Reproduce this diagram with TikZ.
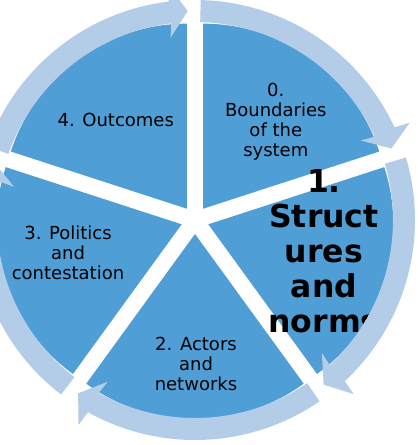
\documentclass[tikz,border=0pt]{standalone}
\usepackage{fontspec}
\setmainfont{DejaVu Sans}
\usetikzlibrary{calc}
\definecolor{piecol}{RGB}{80,158,214}
\definecolor{ringcol}{RGB}{179,204,231}
\begin{document}
\begin{tikzpicture}[x=1pt,y=1pt,
  sector/.style={fill=piecol},
  ringarrow/.style={fill=ringcol},
  lbl/.style={inner sep=0pt, align=center, anchor=base, font=\fontsize{18}{20}\selectfont},
  boldlbl/.style={inner sep=0pt, align=center, anchor=base, font=\fontsize{31.5}{35}\selectfont\bfseries}]
\useasboundingbox (-195,-225) rectangle (224,220);
\clip (-195,-225) rectangle (224,220);
\foreach \s/\b in {18/54, -54/-18, -126/-90, 162/198, 90/126} {
  \fill[sector, shift={(\b:14)}] (0,0) -- (\s:185) arc[start angle=\s, delta angle=72, radius=185] -- cycle;
}
\foreach \a in {90,18,-54,234,162} {
  \pgfmathsetmacro\t{\a-1.5}
  \pgfmathsetmacro\p{\a-70}
  \pgfmathsetmacro\h{\p+4.9}
  \pgfmathsetmacro\q{\p+90}
  \fill[ringarrow] (\t:220) arc[start angle=\t, end angle=\h, radius=220]
    -- ($(\p:209)+(\q:18)+(\p:26)$) -- (\p:209) -- ($(\p:209)+(\q:18)+(\p:-26)$)
    -- (\h:198) arc[start angle=\h, end angle=\t, radius=198] -- cycle;
}
\node[lbl] (outcomes) at (-79.2,94) {4. Outcomes};
\node[lbl] (boundaries) at (80.8,63.5) {0.\\Boundaries\\of the\\system};
\node[lbl] (politics) at (-127,-59) {3. Politics\\and\\contestation};
\node[lbl] (actors) at (1,-170.7) {2. Actors\\and\\networks};
\begin{scope}
  \clip (-18:14) circle[radius=183.5];
  \node[boldlbl] (structures) at (129,-112.7) {1.\\Struct\\ures\\and\\norms};
\end{scope}
\end{tikzpicture}
\end{document}
